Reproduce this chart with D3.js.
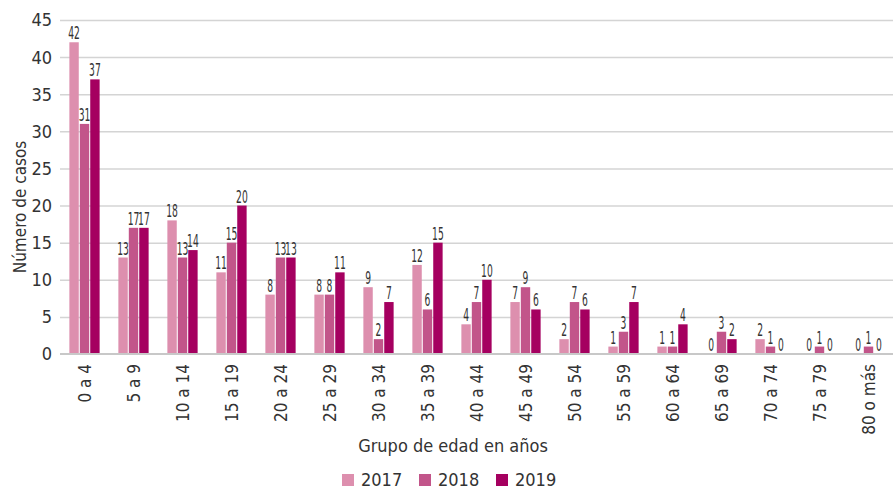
<!DOCTYPE html>
<html>
<head>
<meta charset="utf-8">
<style>
    body { margin: 0; background: #fff; }
    svg text { font-family: "Liberation Sans Narrow", "DejaVu Sans Condensed", "Noto Sans", sans-serif; fill: #333; }
    .grid line { stroke: #d4d4d4; stroke-width: 1.5; }
    .grid path { display: none; }
</style>
<script src="https://d3js.org/d3.v7.min.js"></script>
</head>
<body>
<svg width="893" height="489"></svg>
<script>
    const grupos = ["0 a 4", "5 a 9", "10 a 14", "15 a 19", "20 a 24", "25 a 29", "30 a 34", "35 a 39",
        "40 a 44", "45 a 49", "50 a 54", "55 a 59", "60 a 64", "65 a 69", "70 a 74", "75 a 79", "80 o más"];
    const anios = ["2017", "2018", "2019"];
    const casos2017 = [42, 13, 18, 11, 8, 8, 9, 12, 4, 7, 2, 1, 1, 0, 2, 0, 0];
    const casos2018 = [31, 17, 13, 15, 13, 8, 2, 6, 7, 9, 7, 3, 1, 3, 1, 1, 1];
    const casos2019 = [37, 17, 14, 20, 13, 11, 7, 15, 10, 6, 6, 7, 4, 2, 0, 0, 0];
    const yTicks = [0, 5, 10, 15, 20, 25, 30, 35, 40, 45];

    const series = [casos2017, casos2018, casos2019];
    const colores = ["#dd8fae", "#c2558a", "#a50060"];

    let svg = d3.select("svg");
    let mLeft = 60, mRight = 893, mTop = 20, mBottom = 354;

    let x = d3.scaleBand().domain(grupos).range([mLeft, mRight]).paddingInner(0.34).paddingOuter(0.17);
    let xs = d3.scaleBand().domain(anios).range([0, x.bandwidth()]).padding(0.1);
    let y = d3.scaleLinear().domain([0, 45]).range([mBottom, mTop]);

    // lineas de cuadricula
    svg.append("g")
        .attr("class", "grid")
        .attr("transform", "translate(" + mLeft + ",0)")
        .call(d3.axisRight(y).tickValues(yTicks.slice(1)).tickSize(mRight - mLeft).tickFormat(""));

    // eje y
    svg.append("g")
        .selectAll("text")
        .data(yTicks)
        .enter()
        .append("text")
        .attr("x", 52)
        .attr("y", d => y(d))
        .attr("dy", "0.36em")
        .attr("text-anchor", "end")
        .style("font-size", "18px")
        .text(d => d);

    // barras
    let grupo = svg.append("g")
        .selectAll("g")
        .data(grupos)
        .enter()
        .append("g")
        .attr("transform", d => "translate(" + x(d) + ",0)");

    anios.forEach(function(a, k) {
        grupo.append("rect")
            .attr("x", xs(a))
            .attr("y", (d, i) => y(series[k][i]))
            .attr("width", xs.bandwidth())
            .attr("height", (d, i) => mBottom - y(series[k][i]))
            .attr("fill", colores[k]);

        // etiquetas de valor, estrechadas como en el original
        grupo.append("text")
            .attr("transform", (d, i) => "translate(" + (xs(a) + xs.bandwidth() / 2) + "," +
                (y(series[k][i]) - 3) + ") scale(0.6,1)")
            .attr("text-anchor", "middle")
            .style("font-size", "17px")
            .text((d, i) => series[k][i]);
    });

    // linea base
    svg.append("line")
        .attr("x1", mLeft).attr("x2", mRight)
        .attr("y1", mBottom).attr("y2", mBottom)
        .attr("stroke", "#c8c8c8").attr("stroke-width", 2);

    // etiquetas eje x
    svg.append("g")
        .selectAll("text")
        .data(grupos)
        .enter()
        .append("text")
        .attr("transform", d => "translate(" + (x(d) + x.bandwidth() / 2) + ",364) rotate(-90)")
        .attr("text-anchor", "end")
        .attr("dy", "0.36em")
        .style("font-size", "17px")
        .text(d => d);

    // titulos
    svg.append("text")
        .attr("transform", "translate(20," + ((mTop + mBottom) / 2 + 20) + ") rotate(-90)")
        .attr("text-anchor", "middle")
        .attr("dy", "0.36em")
        .style("font-size", "17px")
        .text("Número de casos");

    svg.append("text")
        .attr("x", 453)
        .attr("y", 452)
        .attr("text-anchor", "middle")
        .style("font-size", "18px")
        .text("Grupo de edad en años");

    // leyenda
    let legend = svg.append("g")
        .selectAll("g")
        .data(anios)
        .enter()
        .append("g")
        .attr("transform", (d, i) => "translate(" + (342 + i * 77) + ",474)");

    legend.append("rect")
        .attr("width", 12).attr("height", 12)
        .attr("fill", (d, i) => colores[i]);

    legend.append("text")
        .attr("x", 19).attr("y", 6)
        .attr("dy", "0.36em")
        .style("font-size", "18px")
        .text(d => d);
</script>
</body>
</html>
